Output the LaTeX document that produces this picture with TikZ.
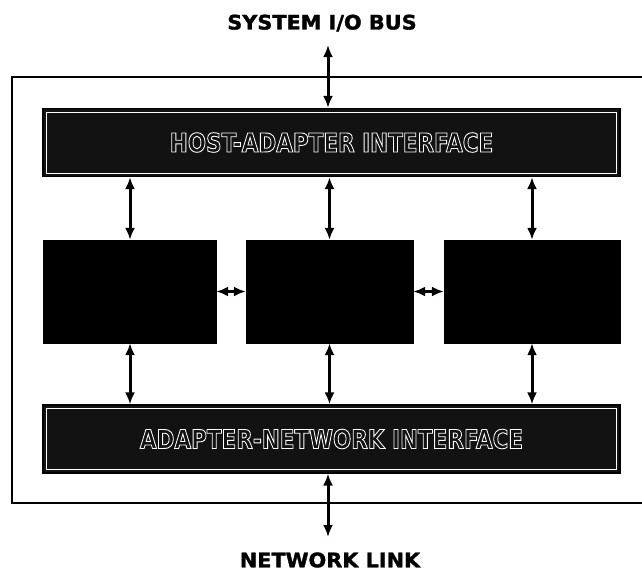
\documentclass[tikz,border=0pt]{standalone}
\usepackage{fontspec}
\setmainfont{DejaVu Sans}
\newfontfamily\barfont{DejaVu Sans Condensed}
\newfontfamily\capfont{DejaVu Sans}[BoldFeatures={FakeBold=1.6}]
\usepackage{tikz}
\usetikzlibrary{arrows.meta,positioning,calc}
\definecolor{barfill}{RGB}{18,18,18}
\definecolor{unitfill}{RGB}{0,0,0}
\tikzstyle{link} = [line width=3pt,{Latex[length=12pt,width=10pt]}-{Latex[length=12pt,width=10pt]}]
\tikzstyle{bar} = [draw=black, line width=1.2pt, fill=barfill, inner sep=0pt, minimum width=577pt, minimum height=68pt]
\tikzstyle{bartext} = [font=\barfont\bfseries\fontsize{26}{30}\selectfont, text=white, xscale=0.92]
\tikzstyle{unit} = [draw=black, fill=unitfill, inner sep=0pt, minimum height=103pt]
\tikzstyle{caption} = [font=\capfont\bfseries\fontsize{20}{24}\selectfont, xscale=1.04]
\newcommand{\outlined}[1]{\special{pdf:literal direct 1 Tr 0.9 w 1 1 1 RG}#1\special{pdf:literal direct 0 Tr}}

\begin{document}
\begin{tikzpicture}[x=1pt, y=-1pt]
\useasboundingbox (0,0) rectangle (642,573);

% Adapter frame (right side runs off the page)
\draw[line width=1.4pt] (645,77) -- (12,77) -- (12,503) -- (645,503);

% Interface bars
\node[bar] (host) at (331.5,142.5) {};
\node[bar] (netif) at (331.5,439) {};
\draw[white, line width=0.8pt] ($(host.north west)+(4,4)$) rectangle ($(host.south east)+(-4,-4)$);
\draw[white, line width=0.8pt] ($(netif.north west)+(4,4)$) rectangle ($(netif.south east)+(-4,-4)$);
\node[bartext] (hostlbl) at (host) {\outlined{HOST-ADAPTER INTERFACE}};
\node[bartext] (netlbl) at (netif) {\outlined{ADAPTER-NETWORK INTERFACE}};

% Processing units
\node[unit, minimum width=173pt] (unitA) at (129.5,291.5) {};
\node[unit, minimum width=167pt] (unitB) at (329.5,291.5) {};
\node[unit, minimum width=176pt] (unitC) at (532,291.5) {};

% Outside labels
\node[caption] (bus) at (322,23) {SYSTEM I/O BUS};
\node[caption] (link) at (330,560) {NETWORK LINK};
\coordinate (busend) at (328,45);
\coordinate (linkend) at (328,537);

% Connections
\draw[link] (busend) -- (busend |- host.north);
\draw[link] (linkend |- netif.south) -- (linkend);
\draw[link] (130,0 |- host.south) -- (130,0 |- unitA.north);
\draw[link] (unitB.north |- host.south) -- (unitB.north);
\draw[link] (unitC.north |- host.south) -- (unitC.north);
\draw[link] (130,0 |- unitA.south) -- (130,0 |- netif.north);
\draw[link] (unitB.south) -- (unitB.south |- netif.north);
\draw[link] (unitC.south) -- (unitC.south |- netif.north);
\draw[link] (unitA.east) -- (unitB.west);
\draw[link] (unitB.east) -- (unitC.west);

\end{tikzpicture}
\end{document}
